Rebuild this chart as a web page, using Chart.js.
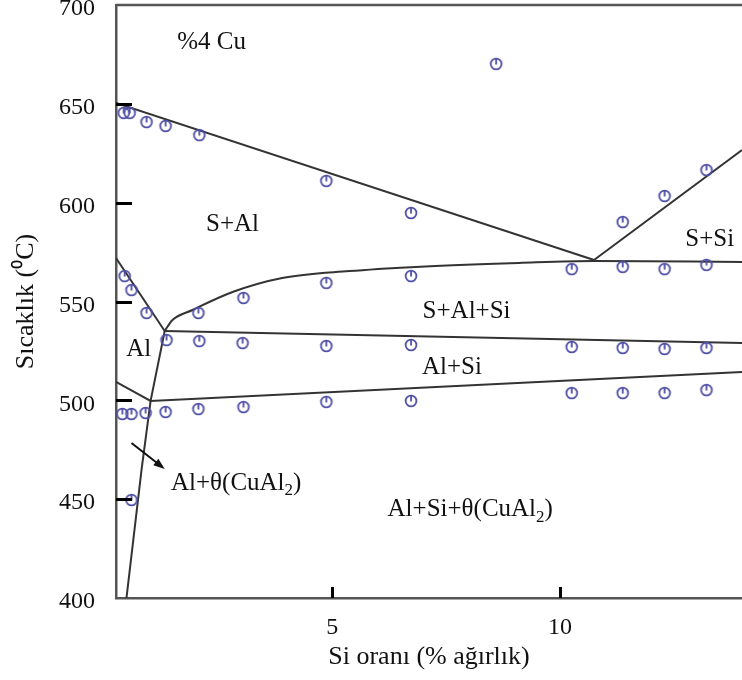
<!DOCTYPE html>
<html>
<head>
<meta charset="utf-8">
<script src="https://cdn.jsdelivr.net/npm/chart.js@4"></script>
<style>
  body { margin: 0; background: #fff; }
  #wrap { width: 742px; height: 680px; }
</style>
</head>
<body>
<div id="wrap"><canvas id="chart" width="742" height="680"></canvas></div>
<script>
// Si wt% (x) and temperature in C (y)

// phase boundary lines
const liqAlX = [0.25, 10.75];
const liqAlY = [650.4, 571.0];
const liqSiX = [10.75, 14];
const liqSiY = [571.0, 626.6];
const valleyX = [1.32, 1.49, 1.93, 2.81, 3.90, 5.37, 6.84, 9.10, 10.75, 14];
const valleyY = [535.1, 540.6, 545.7, 554.8, 561.9, 565.4, 567.5, 569.5, 570.5, 570.0];
const alLiqX = [0.25, 1.32];
const alLiqY = [572.0, 535.1];
const ternX = [1.32, 14];
const ternY = [535.1, 529.0];
const lowX = [0.25, 1.01, 14];
const lowY = [509.3, 499.7, 514.3];
const solvusX = [1.32, 1.01, 0.81, 0.48];
const solvusY = [535.1, 499.7, 464.7, 400];

// measured points
const ptX = [0.42, 0.55, 0.92, 1.34, 2.08, 4.87, 6.73, 8.60, 11.38, 12.30, 13.22,
  0.44, 0.59, 0.92, 2.06, 3.05, 4.87, 6.73, 10.26, 11.38, 12.30, 13.22,
  1.36, 2.08, 3.03, 4.87, 6.73, 10.26, 11.38, 12.30, 13.22,
  0.39, 0.59, 0.90, 1.34, 2.06, 3.05, 4.87, 6.73, 10.26, 11.38, 12.30, 13.22,
  0.59];
const ptY = [645.4, 645.4, 640.8, 638.8, 634.2, 611.0, 594.8, 670.2, 590.2, 603.4, 616.5,
  562.9, 555.8, 544.2, 544.2, 551.8, 559.4, 562.9, 566.4, 567.5, 566.4, 568.5,
  530.5, 530.0, 529.0, 527.5, 528.0, 527.0, 526.5, 526.0, 526.5,
  493.1, 493.1, 493.6, 494.1, 495.6, 496.6, 499.2, 499.7, 503.7, 503.7, 503.7, 505.2,
  449.6];

// region labels
const regionText = ['%4 Cu', 'S+Al', 'S+Si', 'S+Al+Si', 'Al', 'Al+Si', 'Al+θ(CuAl₂)', 'Al+Si+θ(CuAl₂)'];
const regionX = [2.35, 2.81, 13.29, 7.95, 0.75, 7.63, 2.89, 8.03];
const regionY = [681.3, 589.2, 581.6, 545.2, 526.0, 516.4, 458.2, 445.0];

const arrowX = [0.59, 1.32];
const arrowY = [478.4, 465.3];

const yTickMarks = [450, 500, 550, 600, 650];
const xTickMarks = [5, 10];

const FONT = '"Liberation Serif", "Times New Roman", serif';
const PT_COLOR = '#4f4fa6';
const LINE_COLOR = '#333';

const toXY = (xs, ys) => xs.map((x, i) => ({ x: x, y: ys[i] }));

// circle with a little tick, like the marks in the figure
const mark = document.createElement('canvas');
mark.width = 16; mark.height = 16;
{
  const c = mark.getContext('2d');
  c.strokeStyle = PT_COLOR;
  c.lineWidth = 1.8;
  c.beginPath(); c.arc(8, 8, 5.4, 0, Math.PI * 2); c.stroke();
  c.beginPath(); c.moveTo(8, 2.6); c.lineTo(8, 8.5); c.stroke();
}

const lineSet = (xs, ys, extra) => Object.assign({
  data: toXY(xs, ys),
  showLine: true,
  borderColor: LINE_COLOR,
  borderWidth: 2,
  pointRadius: 0,
  order: 1,
}, extra || {});

// fixed axis box sizes, no extra label padding around the plot
const fixBox = (w, h) => (s) => {
  if (w !== null) s.width = w;
  if (h !== null) s.height = h;
  s.paddingTop = 0; s.paddingBottom = 0; s.paddingLeft = 0; s.paddingRight = 0;
};

const extras = {
  id: 'extras',
  afterDatasetsDraw(chart) {
    const ctx = chart.ctx;
    const xs = chart.scales.x, ys = chart.scales.y;
    const area = chart.chartArea;
    ctx.save();
    // top frame line
    ctx.strokeStyle = '#555';
    ctx.lineWidth = 2.5;
    ctx.beginPath(); ctx.moveTo(area.left, area.top); ctx.lineTo(area.right, area.top); ctx.stroke();

    // inward tick marks
    ctx.strokeStyle = '#000';
    ctx.lineWidth = 3;
    yTickMarks.forEach(v => {
      const py = Math.round(ys.getPixelForValue(v)) + 0.5;
      ctx.beginPath(); ctx.moveTo(xs.left, py); ctx.lineTo(xs.left + 16, py); ctx.stroke();
    });
    xTickMarks.forEach(v => {
      const px = Math.round(xs.getPixelForValue(v)) + 0.5;
      ctx.beginPath(); ctx.moveTo(px, ys.bottom); ctx.lineTo(px, ys.bottom - 11); ctx.stroke();
    });

    // region labels (₂ drawn as a real lowered subscript)
    ctx.fillStyle = '#111';
    ctx.textBaseline = 'middle';
    ctx.textAlign = 'left';
    regionText.forEach((t, i) => {
      const parts = t.split('₂');
      const big = '25px ' + FONT, small = '17px ' + FONT;
      let w = 0;
      parts.forEach((p, k) => {
        ctx.font = big; w += ctx.measureText(p).width;
        if (k < parts.length - 1) { ctx.font = small; w += ctx.measureText('2').width; }
      });
      let px = xs.getPixelForValue(regionX[i]) - w / 2;
      const py = ys.getPixelForValue(regionY[i]);
      parts.forEach((p, k) => {
        ctx.font = big; ctx.fillText(p, px, py); px += ctx.measureText(p).width;
        if (k < parts.length - 1) {
          ctx.font = small; ctx.fillText('2', px, py + 8); px += ctx.measureText('2').width;
        }
      });
    });

    // arrow
    const x1 = xs.getPixelForValue(arrowX[0]), y1 = ys.getPixelForValue(arrowY[0]);
    const x2 = xs.getPixelForValue(arrowX[1]), y2 = ys.getPixelForValue(arrowY[1]);
    const a = Math.atan2(y2 - y1, x2 - x1);
    ctx.strokeStyle = '#111';
    ctx.lineWidth = 2;
    ctx.beginPath(); ctx.moveTo(x1, y1); ctx.lineTo(x2 - 6 * Math.cos(a), y2 - 6 * Math.sin(a)); ctx.stroke();
    ctx.fillStyle = '#111';
    ctx.beginPath();
    ctx.moveTo(x2, y2);
    ctx.lineTo(x2 - 12 * Math.cos(a - 0.35), y2 - 12 * Math.sin(a - 0.35));
    ctx.lineTo(x2 - 12 * Math.cos(a + 0.35), y2 - 12 * Math.sin(a + 0.35));
    ctx.closePath(); ctx.fill();
    ctx.restore();
  }
};

new Chart(document.getElementById('chart').getContext('2d'), {
  type: 'scatter',
  data: {
    datasets: [
      {
        data: toXY(ptX, ptY),
        pointStyle: mark,
        pointRadius: 8,
        order: 0,
      },
      lineSet(liqAlX, liqAlY),
      lineSet(liqSiX, liqSiY),
      lineSet(valleyX, valleyY, { cubicInterpolationMode: 'monotone' }),
      lineSet(alLiqX, alLiqY),
      lineSet(ternX, ternY),
      lineSet(lowX, lowY),
      lineSet(solvusX, solvusY),
    ]
  },
  options: {
    responsive: false,
    animation: false,
    layout: { autoPadding: false, padding: { top: 5, left: 0, right: 0, bottom: 0 } },
    plugins: { legend: { display: false }, tooltip: { enabled: false } },
    scales: {
      x: {
        type: 'linear',
        min: 0.25,
        max: 14,
        afterBuildTicks: (s) => { s.ticks = xTickMarks.map(v => ({ value: v })); },
        afterFit: fixBox(null, 82),
        grid: { display: false, drawTicks: false },
        border: { display: true, color: '#555', width: 2.5 },
        ticks: { color: '#111', padding: 15, font: { family: FONT, size: 24 } },
        title: {
          display: true,
          text: 'Si oranı (% ağırlık)',
          color: '#111',
          padding: { top: 0, bottom: 7 },
          font: { family: FONT, size: 26 },
        },
      },
      y: {
        min: 400,
        max: 700,
        afterFit: fixBox(116, null),
        grid: { display: false, drawTicks: false },
        border: { display: true, color: '#555', width: 2.5 },
        ticks: { stepSize: 50, color: '#111', padding: 21, labelOffset: 4, font: { family: FONT, size: 24 } },
        title: {
          display: true,
          text: 'Sıcaklık (⁰C)',
          color: '#111',
          padding: { top: 11, bottom: 0 },
          font: { family: FONT, size: 26 },
        },
      },
    },
  },
  plugins: [extras],
});
</script>
</body>
</html>
